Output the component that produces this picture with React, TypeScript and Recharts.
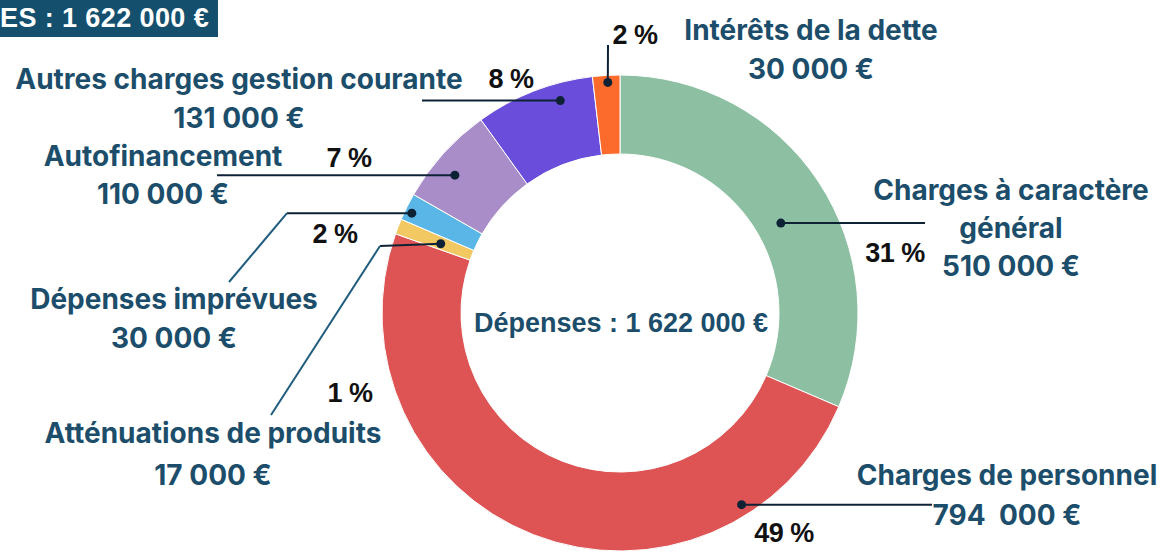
import React from 'react';
import { PieChart, Pie, Cell } from 'recharts';

const categories = [
  'Charges à caractère général',
  'Charges de personnel',
  'Atténuations de produits',
  'Dépenses imprévues',
  'Autofinancement',
  'Autres charges gestion courante',
  'Intérêts de la dette',
];
const amounts = [510000, 794000, 17000, 30000, 110000, 131000, 30000];
const percentLabels = ['31 %', '49 %', '1 %', '2 %', '7 %', '8 %', '2 %'];
const amountLabels = ['510 000 €', '794  000 €', '17 000 €', '30 000 €', '110 000 €', '131 000 €', '30 000 €'];
const nameLines = [
  ['Charges à caractère', 'général'],
  ['Charges de personnel'],
  ['Atténuations de produits'],
  ['Dépenses imprévues'],
  ['Autofinancement'],
  ['Autres charges gestion courante'],
  ['Intérêts de la dette'],
];
const colors = ['#8DBFA2', '#DE5454', '#F1C861', '#5AB6E6', '#A98DC9', '#6A4EDB', '#FC6A2C'];
const centerTitle = 'Dépenses : 1 622 000 €';
const bannerText = 'ES : 1 622 000 €';

const data = categories.map((name, i) => ({ name, value: amounts[i] }));

// Annotation layout (relative to the pie centre)
type Pt = [number, number | null];
const layout: {
  dA: number; rf: number; path: Pt[]; diagFrom?: number;
  pct: [number, number]; name: [number, number]; lineGap: number;
}[] = [
  { dA: -4.2, rf: 0.32, path: [[305, null]], pct: [275, -51], name: [391, -113], lineGap: 38 },
  { dA: 53.7, rf: 0.86, path: [[312, null]], pct: [164, 229], name: [387, 172], lineGap: 40 },
  { dA: 0.2, rf: 0.42, path: [[-240, -67], [-349, 102]], diagFrom: 1, pct: [-270, 89], name: [-407, 130], lineGap: 42 },
  { dA: 0.9, rf: 0.91, path: [[-333, null], [-391, -31]], diagFrom: 1, pct: [-285, -70], name: [-446, -4], lineGap: 39 },
  { dA: 2.2, rf: 0.71, path: [[-403, null]], pct: [-271, -146], name: [-457, -147], lineGap: 38 },
  { dA: -5.5, rf: 0.78, path: [[-198, null]], pct: [-109, -225], name: [-381, -224], lineGap: 39 },
  { dA: -0.3, rf: 0.91, path: [[-12, -268]], pct: [15, -269], name: [191, -273], lineGap: 39 },
];

const NAVY = '#0E2236';
const TEAL_LINE = '#1F5C7E';
const TEXT = '#1C4E6B';
const labelFont = 'Inter, "Noto Sans", sans-serif';
const pctFont = '"Liberation Sans", Arial, sans-serif';

const renderLabel = (props: any) => {
  const { cx, cy, midAngle, innerRadius, outerRadius, index } = props;
  const L = layout[index];
  const ang = ((midAngle + L.dA) * Math.PI) / 180;
  const r = innerRadius + L.rf * (outerRadius - innerRadius);
  const x0 = cx + r * Math.cos(ang);
  const y0 = cy - r * Math.sin(ang);
  const pts: [number, number][] = [[x0, y0]];
  L.path.forEach((p) => {
    const prev = pts[pts.length - 1];
    pts.push([cx + p[0], p[1] === null ? prev[1] : cy + p[1]]);
  });
  const segs = [];
  for (let i = 0; i < pts.length - 1; i++) {
    const diag = L.diagFrom !== undefined && i >= L.diagFrom;
    segs.push(
      <line key={'s' + i} x1={pts[i][0]} y1={pts[i][1]} x2={pts[i + 1][0]} y2={pts[i + 1][1]}
        stroke={diag ? TEAL_LINE : NAVY} strokeWidth={2} />
    );
  }
  const lines = [...nameLines[index], amountLabels[index]];
  return (
    <g key={'lbl' + index}>
      {segs}
      <circle cx={x0} cy={y0} r={4.5} fill={NAVY} />
      <text x={cx + L.pct[0]} y={cy + L.pct[1]} textAnchor="middle" fill="#111" fontFamily={pctFont}
        fontWeight={700} fontSize={27} letterSpacing={-0.5}>{percentLabels[index]}</text>
      {lines.map((t, j) => (
        <text key={j} x={cx + L.name[0]} y={cy + L.name[1] + j * L.lineGap} textAnchor="middle"
          fill={TEXT} fontFamily={labelFont} fontWeight={700} fontSize={28} letterSpacing={0}
          style={{ whiteSpace: 'pre' }}>{t}</text>
      ))}
      {index === 0 ? (
        <text x={cx + 1} y={cy + 19} textAnchor="middle" fill={TEXT} fontFamily={pctFont}
          fontWeight={700} fontSize={27}>{centerTitle}</text>
      ) : null}
    </g>
  );
};

export default function App() {
  return (
    <div style={{ position: 'absolute', left: 0, top: 0, width: 1160, height: 554, background: '#fff', overflow: 'hidden' }}>
      <PieChart width={1160} height={554} margin={{ top: 0, right: 0, bottom: 0, left: 0 }}>
        <Pie
          data={data}
          dataKey="value"
          nameKey="name"
          cx={620}
          cy={313}
          innerRadius={159}
          outerRadius={238}
          startAngle={90}
          endAngle={-270}
          stroke="#ffffff"
          strokeWidth={1}
          label={renderLabel}
          labelLine={false}
          isAnimationActive={false}
        >
          {data.map((d, i) => (
            <Cell key={d.name} fill={colors[i]} />
          ))}
        </Pie>
      </PieChart>
      <div style={{
        position: 'absolute', left: 0, top: 0, width: 218, height: 37, background: '#14506E',
        color: '#fff', fontFamily: pctFont, fontWeight: 700, fontSize: 27, lineHeight: '37px',
        whiteSpace: 'nowrap', letterSpacing: 0.4,
      }}>{bannerText}</div>
    </div>
  );
}
